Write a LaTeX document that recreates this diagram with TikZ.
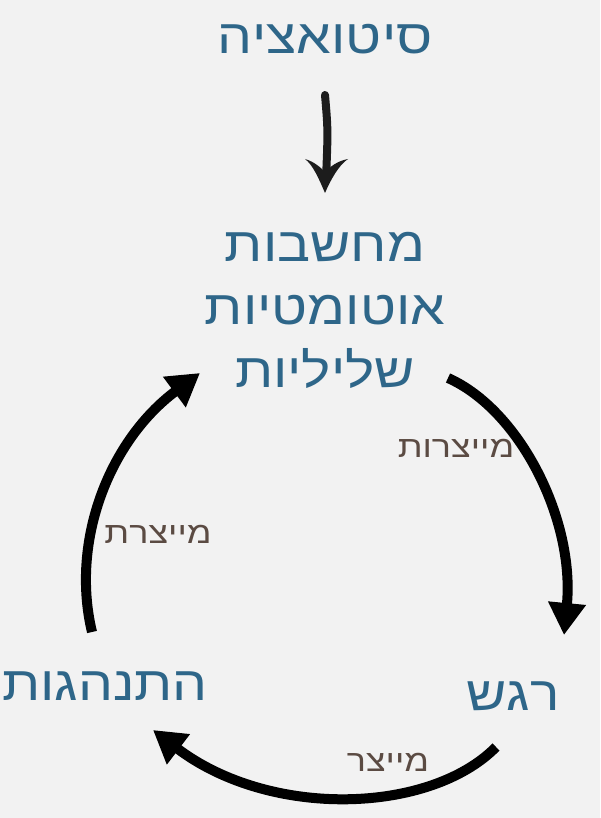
\documentclass[tikz,border=0pt]{standalone}
\usepackage{fontspec}
\setmainfont{Liberation Sans}
\newfontfamily\hebtitle[FakeStretch=1.15]{Liberation Sans}
\newfontfamily\heblab[FakeStretch=1.2]{Liberation Sans}
\TeXXeTstate=1
\usetikzlibrary{arrows.meta}
\definecolor{bg}{HTML}{F2F2F2}
\definecolor{heb}{HTML}{2E6689}
\definecolor{lbl}{HTML}{5B4B43}
\definecolor{ink}{HTML}{1C1C1C}
\begin{document}
\begin{tikzpicture}[x=1pt,y=-1pt,
  title/.style={text=heb,font=\hebtitle\fontsize{48}{63}\selectfont,inner sep=0pt,align=center},
  lab/.style={text=lbl,font=\heblab\fontsize{30}{34}\selectfont,inner sep=0pt},
  cyc/.style={line width=10pt,-{Triangle[width=36pt,length=32pt]}}]
\fill[bg] (0,0) rectangle (600,818);
\useasboundingbox (0,0) rectangle (600,818);
\node[title] (sit) at (325,39) {\beginR סיטואציה\endR};
\node[title] (thoughts) at (325,310) {\beginR מחשבות\endR\\\beginR אוטומטיות\endR\\\beginR שליליות\endR};
\node[title] (emo) at (513,696) {\beginR רגש\endR};
\node[title] (beh) at (105,686) {\beginR התנהגות\endR};
\node[lab] (l1) at (456,448) {\beginR מייצרות\endR};
\node[lab] (l2) at (388,762) {\beginR מייצר\endR};
\node[lab] (l3) at (158,534) {\beginR מייצרת\endR};
% top hand-drawn arrow
\coordinate (a0) at ([shift={(0,56)}]sit.center);
\coordinate (a1) at ([shift={(0,-117)}]thoughts.center);
\draw[ink,line width=8pt,line cap=round] (a0) .. controls ([shift={(3,35)}]a0) .. ([shift={(1,-14)}]a1);
\fill[ink] (a1) .. controls ([shift={(-6,-14)}]a1) and ([shift={(-12,-28)}]a1) .. ([shift={(-20,-34)}]a1)
  .. controls ([shift={(-10,-31)}]a1) and ([shift={(-4,-25)}]a1) .. ([shift={(0,-21)}]a1)
  .. controls ([shift={(5,-26)}]a1) and ([shift={(12,-32)}]a1) .. ([shift={(23,-34)}]a1)
  .. controls ([shift={(14,-28)}]a1) and ([shift={(6,-14)}]a1) .. (a1) -- cycle;
% cycle arrows
\draw[cyc] ([shift={(123,68)}]thoughts.center) .. controls ([shift={(195,100)}]thoughts.center) and ([shift={(62,-176)}]emo.center) .. ([shift={(51,-61)}]emo.center);
\draw[cyc] ([shift={(-17,51)}]emo.center) .. controls ([shift={(-83,118)}]emo.center) and ([shift={(165,133)}]beh.center) .. ([shift={(48,44)}]beh.center);
\draw[cyc] ([shift={(-13,-54)}]beh.center) .. controls ([shift={(-35,-146)}]beh.center) and ([shift={(-215,130)}]thoughts.center) .. ([shift={(-125,63)}]thoughts.center);
\end{tikzpicture}
\end{document}
